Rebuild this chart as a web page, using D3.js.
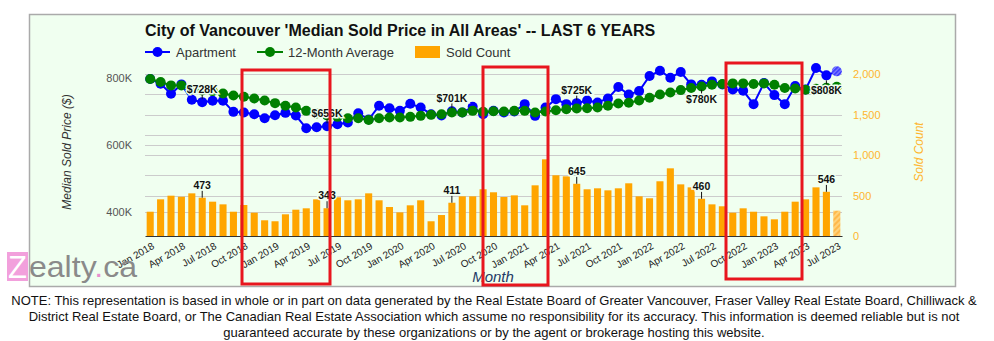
<!DOCTYPE html>
<html>
<head>
<meta charset="utf-8">
<script src="https://cdn.jsdelivr.net/npm/d3@7"></script>
<style>
  body { margin: 0; background: #fff; }
  svg { font-family: "Liberation Sans", Arial, sans-serif; display: block; }
</style>
</head>
<body>
<svg width="994" height="341"></svg>
<script>
// months Jan 2018 .. Jul 2023
var months = d3.timeMonth.range(new Date(2018, 0, 1), new Date(2023, 7, 1));

// median sold price, apartment ($K)
var apartment = [797, 783, 753, 781, 735, 728, 732, 732, 699, 697, 692, 680, 689, 696, 688, 650, 653, 656, 662, 667,
  695, 676, 717, 710, 702, 723, 712, 692, 688, 701, 697, 714, 692, 702, 697, 700, 722, 687, 712, 737,
  722, 725, 733, 727, 739, 773, 751, 761, 806, 822, 801, 818, 781, 780, 790, 781, 766, 762, 722, 785,
  749, 722, 776, 766, 830, 808, 820];

// 12-month average ($K)
var average = [797, 788, 778, 778, 766, 763, 761, 754, 748, 744, 739, 733, 725, 717, 712, 702, 694, 688, 684, 680,
  680, 675, 680, 682, 682, 684, 687, 690, 692, 697, 697, 702, 699, 701, 700, 702, 702, 697, 700, 704,
  707, 709, 710, 712, 717, 724, 726, 733, 741, 751, 757, 764, 770, 775, 780, 782, 784, 784, 782, 784,
  780, 770, 769, 765, 768, 771, 774];

// sold count
var soldCount = [300, 453, 498, 485, 527, 473, 424, 391, 300, 383, 288, 194, 182, 268, 325, 342, 453, 343, 478, 441,
  453, 527, 441, 358, 292, 379, 441, 182, 259, 411, 490, 490, 577, 540, 482, 502, 379, 626, 947, 750,
  737, 645, 577, 589, 564, 589, 651, 490, 466, 676, 836, 638, 601, 460, 391, 367, 288, 342, 300, 243,
  206, 300, 424, 453, 601, 546, 313];

// June of every year gets a value label
var labelled = [5, 17, 29, 41, 53, 65];
var priceLabelBelow = [53, 65];

var priceTicks = [400000, 600000, 800000];
var countTicks = [0, 500, 1000, 1500, 2000];
var countGrid = [500, 750, 1000, 1250, 1500, 1750, 2000];

var noteLines = [
  "NOTE: This representation is based in whole or in part on data generated by the Real Estate Board of Greater Vancouver, Fraser Valley Real Estate Board, Chilliwack &",
  "District Real Estate Board, or The Canadian Real Estate Association which assume no responsibility for its accuracy. This information is deemed reliable but is not",
  "guaranteed accurate by these organizations or by the agent or brokerage hosting this website."
];

var svg = d3.select("svg");
var plot = { left: 145, right: 842, top: 66, bottom: 236 };
var bg = "#f0fff0";
var orange = "#ffa500";
var orangeText = "#ffb52e";

var idx = d3.range(months.length);
var x = d3.scaleBand().domain(idx).range([plot.left, plot.right]).paddingInner(0.32).paddingOuter(0.16);
var cx = function(i) { return x(i) + x.bandwidth() / 2; };
var yP = d3.scaleLinear().domain([328000, 836000]).range([plot.bottom, plot.top]);
var yC = d3.scaleLinear().domain([0, 2100]).range([plot.bottom, plot.top]);

// patterns for the partial (current) month
var defs = svg.append("defs");
var pb = defs.append("pattern").attr("id", "hatchBar").attr("patternUnits", "userSpaceOnUse")
  .attr("width", 4).attr("height", 4).attr("patternTransform", "rotate(45)");
pb.append("rect").attr("width", 4).attr("height", 4).attr("fill", "#ffd27a");
pb.append("rect").attr("width", 2).attr("height", 4).attr("fill", "#ffb84a");
var pp = defs.append("pattern").attr("id", "hatchPt").attr("patternUnits", "userSpaceOnUse")
  .attr("width", 3).attr("height", 3).attr("patternTransform", "rotate(45)");
pp.append("rect").attr("width", 3).attr("height", 3).attr("fill", "#8080ff");
pp.append("rect").attr("width", 1.5).attr("height", 3).attr("fill", "#3333ff");

// panel
svg.append("rect").attr("x", 29.5).attr("y", 14.5).attr("width", 926).attr("height", 272)
  .attr("fill", bg).attr("stroke", "#aaa").attr("stroke-width", 1.5);

// title
svg.append("text").attr("x", 145).attr("y", 35.5)
  .attr("font-size", 16).attr("font-weight", "bold").attr("fill", "#111")
  .text("City of Vancouver 'Median Sold Price in All Areas' -- LAST 6 YEARS");

// legend
var lg = svg.append("g").attr("font-size", 13).attr("fill", "#333");
lg.append("line").attr("x1", 145).attr("x2", 170).attr("y1", 52).attr("y2", 52).attr("stroke", "#0000ff").attr("stroke-width", 2);
lg.append("circle").attr("cx", 157.5).attr("cy", 52).attr("r", 5).attr("fill", "#0000ff");
lg.append("text").attr("x", 176).attr("y", 56.5).text("Apartment");
lg.append("line").attr("x1", 257).attr("x2", 283).attr("y1", 52).attr("y2", 52).attr("stroke", "#008000").attr("stroke-width", 2);
lg.append("circle").attr("cx", 270).attr("cy", 52).attr("r", 5).attr("fill", "#008000");
lg.append("text").attr("x", 288).attr("y", 56.5).text("12-Month Average");
lg.append("rect").attr("x", 415).attr("y", 46).attr("width", 25).attr("height", 12).attr("fill", orange);
lg.append("text").attr("x", 446).attr("y", 56.5).text("Sold Count");

// gridlines
var grid = svg.append("g").attr("stroke", "#ccc").attr("stroke-width", 1);
grid.selectAll(".gc").data(countGrid).enter().append("line")
  .attr("x1", plot.left).attr("x2", plot.right)
  .attr("y1", function(d) { return Math.round(yC(d)) + 0.5; })
  .attr("y2", function(d) { return Math.round(yC(d)) + 0.5; });
grid.selectAll(".gp").data([400000, 600000]).enter().append("line")
  .attr("x1", plot.left).attr("x2", plot.right)
  .attr("y1", function(d) { return Math.round(yP(d)) + 0.5; })
  .attr("y2", function(d) { return Math.round(yP(d)) + 0.5; });

// bars
svg.append("g").selectAll("rect").data(soldCount).enter().append("rect")
  .attr("x", function(d, i) { return x(i); })
  .attr("width", x.bandwidth())
  .attr("y", function(d) { return yC(d); })
  .attr("height", function(d) { return plot.bottom - yC(d); })
  .attr("fill", function(d, i) { return i == soldCount.length - 1 ? "url(#hatchBar)" : orange; });

// x axis
var xAxis = svg.append("g").attr("transform", "translate(0," + plot.bottom + ")")
  .call(d3.axisBottom(x)
    .tickValues(idx.filter(function(i) { return i % 3 == 0; }))
    .tickFormat(function(i) { return d3.timeFormat("%b %Y")(months[i]); })
    .tickSize(0));
xAxis.select(".domain").attr("stroke", "#333");
xAxis.selectAll("text")
  .attr("font-size", 10).attr("fill", "#222")
  .attr("text-anchor", "end")
  .attr("x", 0).attr("y", 0).attr("dy", "0.35em")
  .attr("transform", "translate(3,9) rotate(-30)");

// left axis
var lAxis = svg.append("g").attr("transform", "translate(" + plot.left + ",0)")
  .call(d3.axisLeft(yP).tickValues(priceTicks)
    .tickFormat(function(d) { return (d / 1000) + "K"; }).tickSize(0).tickPadding(13));
lAxis.select(".domain").remove();
lAxis.selectAll("text").attr("font-size", 11).attr("fill", "#555");

// right axis
var rAxis = svg.append("g").attr("transform", "translate(" + plot.right + ",0)")
  .call(d3.axisRight(yC).tickValues(countTicks).tickFormat(d3.format(",")).tickSize(0).tickPadding(11));
rAxis.select(".domain").remove();
rAxis.selectAll("text").attr("font-size", 11).attr("fill", orangeText);

// axis titles
svg.append("text").attr("transform", "translate(71,152) rotate(-90)")
  .attr("text-anchor", "middle").attr("font-size", 12).attr("font-style", "italic").attr("fill", "#333")
  .text("Median Sold Price ($)");
svg.append("text").attr("transform", "translate(923,152) rotate(-90)")
  .attr("text-anchor", "middle").attr("font-size", 12).attr("font-style", "italic").attr("fill", orangeText)
  .text("Sold Count");
svg.append("text").attr("x", 493).attr("y", 282)
  .attr("text-anchor", "middle").attr("font-size", 15).attr("font-style", "italic").attr("fill", "#1f3a66")
  .text("Month");

// lines
var lineP = function(arr) {
  return d3.line().x(function(d, i) { return cx(i); }).y(function(d) { return yP(d * 1000); })(arr);
};
svg.append("path").attr("d", lineP(apartment)).attr("fill", "none").attr("stroke", "#0000ff").attr("stroke-width", 2);
svg.append("g").selectAll("circle").data(apartment).enter().append("circle")
  .attr("cx", function(d, i) { return cx(i); })
  .attr("cy", function(d) { return yP(d * 1000); })
  .attr("r", 5)
  .attr("fill", function(d, i) { return i == apartment.length - 1 ? "url(#hatchPt)" : "#0000ff"; });
svg.append("path").attr("d", lineP(average)).attr("fill", "none").attr("stroke", "#008000").attr("stroke-width", 2);
svg.append("g").selectAll("circle").data(average).enter().append("circle")
  .attr("cx", function(d, i) { return cx(i); })
  .attr("cy", function(d) { return yP(d * 1000); })
  .attr("r", 5)
  .attr("fill", "#008000");

// value labels
var ann = svg.append("g").attr("font-size", 10.5).attr("font-weight", "bold").attr("fill", "#111")
  .attr("text-anchor", "middle");
labelled.forEach(function(i) {
  var px = cx(i), py = yP(apartment[i] * 1000);
  var below = priceLabelBelow.indexOf(i) >= 0;
  var ty = below ? py + 15 : py - 13;
  ann.append("line").attr("x1", px).attr("x2", px)
    .attr("y1", below ? py + 5 : py - 8).attr("y2", below ? py + 9 : py - 3)
    .attr("stroke", "#111");
  ann.append("text").attr("x", px).attr("y", ty).attr("dy", "0.35em")
    .attr("stroke", bg).attr("stroke-width", 3).attr("paint-order", "stroke")
    .text("$" + apartment[i] + "K");

  var by = yC(soldCount[i]);
  ann.append("line").attr("x1", px).attr("x2", px).attr("y1", by - 7).attr("y2", by)
    .attr("stroke", "#111");
  ann.append("text").attr("x", px).attr("y", by - 12.5).attr("dy", "0.35em")
    .attr("stroke", bg).attr("stroke-width", 3).attr("paint-order", "stroke")
    .text(soldCount[i]);
});

// red highlight boxes
var boxes = [[242, 70, 88, 214], [483, 67, 65, 218], [726, 63, 76, 216]];
svg.append("g").selectAll("rect").data(boxes).enter().append("rect")
  .attr("x", function(d) { return d[0]; }).attr("y", function(d) { return d[1]; })
  .attr("width", function(d) { return d[2]; }).attr("height", function(d) { return d[3]; })
  .attr("fill", "none").attr("stroke", "#e8161e").attr("stroke-width", 3);

// logo
var logo = svg.append("g");
logo.append("rect").attr("x", 7).attr("y", 252).attr("width", 21).attr("height", 29).attr("fill", "#f2a0dc");
logo.append("text").attr("x", 17.5).attr("y", 278).attr("text-anchor", "middle")
  .attr("font-size", 31).attr("fill", "#fff").text("Z");
var lt = logo.append("text").attr("x", 29).attr("y", 277).attr("font-size", 30)
  .attr("textLength", 108).attr("lengthAdjust", "spacingAndGlyphs");
lt.append("tspan").attr("fill", "#8a8a8a").text("ealty");
lt.append("tspan").attr("fill", "#e890d0").text(".");
lt.append("tspan").attr("fill", "#8a8a8a").text("ca");

// note
svg.append("g").selectAll("text").data(noteLines).enter().append("text")
  .attr("x", 494).attr("y", function(d, i) { return 304.5 + i * 16; })
  .attr("text-anchor", "middle").attr("font-size", 13).attr("fill", "#111")
  .text(function(d) { return d; });
</script>
</body>
</html>
